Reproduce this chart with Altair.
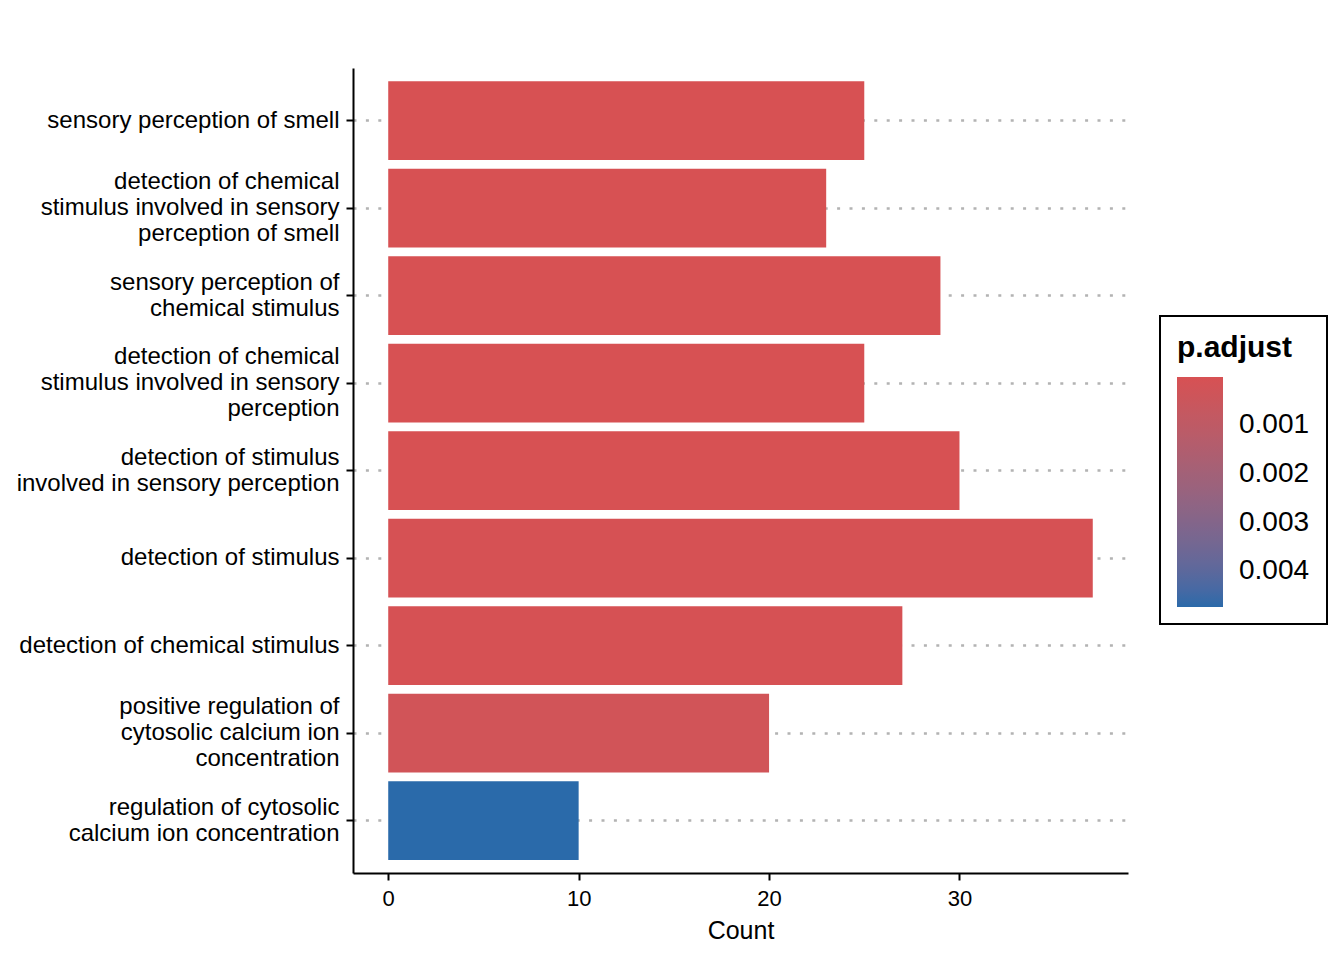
import altair as alt
import pandas as pd

# ---- data ----
terms = [
    "sensory perception of smell",
    "detection of chemical|stimulus involved in sensory|perception of smell",
    "sensory perception of|chemical stimulus",
    "detection of chemical|stimulus involved in sensory|perception",
    "detection of stimulus|involved in sensory perception",
    "detection of stimulus",
    "detection of chemical stimulus",
    "positive regulation of|cytosolic calcium ion|concentration",
    "regulation of cytosolic|calcium ion concentration",
]
counts = [25, 23, 29, 25, 30, 37, 27, 20, 10]
p_adjust = [2.0e-6, 2.0e-6, 1.2e-5, 2.0e-6, 1.2e-5, 3.0e-5, 3.0e-5, 2.6e-4, 4.74e-3]
legend_ticks = [0.001, 0.002, 0.003, 0.004]
x_ticks = [0, 10, 20, 30]

df = pd.DataFrame({"label": terms, "Count": counts, "p_adjust": p_adjust})

FONT = "Liberation Sans"
LINE_H = 26

label_offset = {
    "condition": [
        {"test": "length(split(datum.value, '|')) == 3", "value": -LINE_H},
        {"test": "length(split(datum.value, '|')) == 2", "value": -LINE_H / 2},
    ],
    "value": 0,
}

chart = (
    alt.Chart(df)
    .transform_calculate(neg_p="-datum.p_adjust")
    .mark_bar()
    .encode(
        x=alt.X(
            "Count:Q",
            scale=alt.Scale(domain=[-1.85, 38.85], nice=False, zero=False),
            axis=alt.Axis(
                values=x_ticks,
                grid=False,
                title="Count",
                titleFontSize=25,
                titleFontWeight="normal",
                titleColor="black",
                titlePadding=9,
                labelFontSize=22,
                labelColor="black",
                labelPadding=8,
                domainColor="black",
                domainWidth=2,
                tickColor="black",
                tickWidth=2,
                tickSize=7,
            ),
        ),
        x2=alt.datum(0),
        y=alt.Y(
            "label:N",
            sort=terms,
            scale=alt.Scale(paddingInner=0.1, paddingOuter=0.15),
            axis=alt.Axis(
                title="",
                labelExpr="split(datum.label, '|')",
                labelFontSize=24,
                labelLineHeight=LINE_H,
                labelColor="black",
                labelPadding=7,
                labelLimit=600,
                labelOffset=label_offset,
                domainColor="black",
                domainWidth=2,
                tickColor="black",
                tickWidth=2,
                tickSize=7,
                grid=True,
                gridColor="#b3b3b3",
                gridDash=[3, 9.4],
                gridWidth=2.6,
            ),
        ),
        color=alt.Color(
            "neg_p:Q",
            title="p.adjust",
            scale=alt.Scale(
                domain=[-max(p_adjust), -min(p_adjust)],
                range=["#2A6AAA", "#D75153"],
                interpolate="lab",
            ),
            legend=alt.Legend(
                orient="none",
                legendX=807,
                legendY=248,
                direction="vertical",
                values=[-v for v in legend_ticks],
                labelExpr="format(-datum.value, '.3f')",
                gradientLength=230,
                gradientThickness=46,
                gradientStrokeWidth=0,
                labelFontSize=28,
                labelColor="black",
                labelOffset=16,
                titleFontSize=30,
                titleFontWeight="bold",
                titleColor="black",
                titlePadding=14,
                padding=17,
                strokeColor="black",
                fillColor="white",
            ),
        ),
    )
    .properties(
        width=775,
        height=805,
        autosize=alt.AutoSizeParams(type="none"),
        padding={"left": 345, "top": 60, "right": 208, "bottom": 79},
    )
    .configure(font=FONT, background="white")
    .configure_view(strokeWidth=0)
    .configure_legend(strokeWidth=2)
)

chart.save("out.html", embed_options={"renderer": "svg", "actions": False})
